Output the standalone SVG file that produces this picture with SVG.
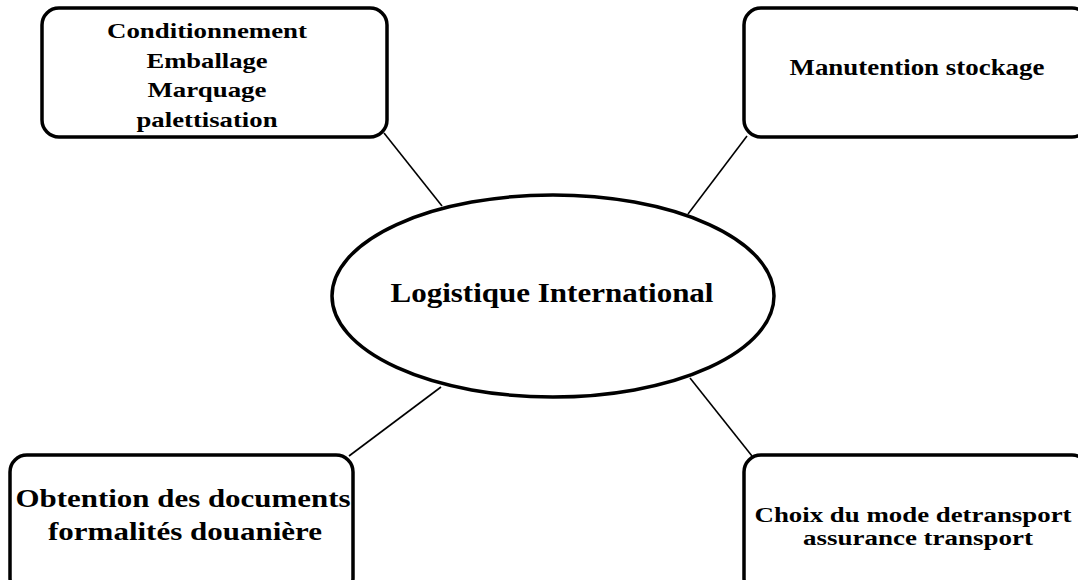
<svg xmlns="http://www.w3.org/2000/svg" width="1078" height="580" viewBox="0 0 1078 580">
<style>
.box{fill:#fff;stroke:#000;stroke-width:3.5}
.conn line{stroke:#000;stroke-width:1.6}
text{font-family:"Liberation Serif","Times New Roman",serif;font-weight:bold;fill:#000;text-anchor:middle}
</style>
<rect width="1078" height="580" fill="#fff"/>
<g class="conn" id="connectors">
<line x1="384" y1="133" x2="442" y2="206"/>
<line x1="747" y1="136" x2="688" y2="214"/>
<line x1="349" y1="456" x2="441" y2="387"/>
<line x1="752" y1="456" x2="690" y2="378"/>
</g>
<g id="node-tl">
<rect class="box" x="42" y="8" width="345" height="129" rx="17"/>
<text x="207" y="38" font-size="21" textLength="200" lengthAdjust="spacingAndGlyphs">Conditionnement</text>
<text x="207" y="68" font-size="21" textLength="121" lengthAdjust="spacingAndGlyphs">Emballage</text>
<text x="207" y="97" font-size="21" textLength="119" lengthAdjust="spacingAndGlyphs">Marquage</text>
<text x="207" y="127" font-size="21" textLength="141" lengthAdjust="spacingAndGlyphs">palettisation</text>
</g>
<g id="node-tr">
<rect class="box" x="744" y="8" width="345" height="129" rx="17"/>
<text x="917" y="75" font-size="23" textLength="255" lengthAdjust="spacingAndGlyphs">Manutention stockage</text>
</g>
<g id="node-center">
<ellipse class="box" cx="553" cy="296" rx="221" ry="101"/>
<text x="552" y="302" font-size="27" textLength="323" lengthAdjust="spacingAndGlyphs">Logistique International</text>
</g>
<g id="node-bl">
<rect class="box" x="10" y="455" width="343" height="140" rx="17"/>
<text x="183" y="507" font-size="25" textLength="335" lengthAdjust="spacingAndGlyphs">Obtention des documents</text>
<text x="185" y="540" font-size="25" textLength="274" lengthAdjust="spacingAndGlyphs">formalités douanière</text>
</g>
<g id="node-br">
<rect class="box" x="744" y="455" width="345" height="140" rx="17"/>
<text x="913" y="522" font-size="20" textLength="317" lengthAdjust="spacingAndGlyphs">Choix du mode detransport</text>
<text x="918" y="545" font-size="20" textLength="230" lengthAdjust="spacingAndGlyphs">assurance transport</text>
</g>
</svg>
